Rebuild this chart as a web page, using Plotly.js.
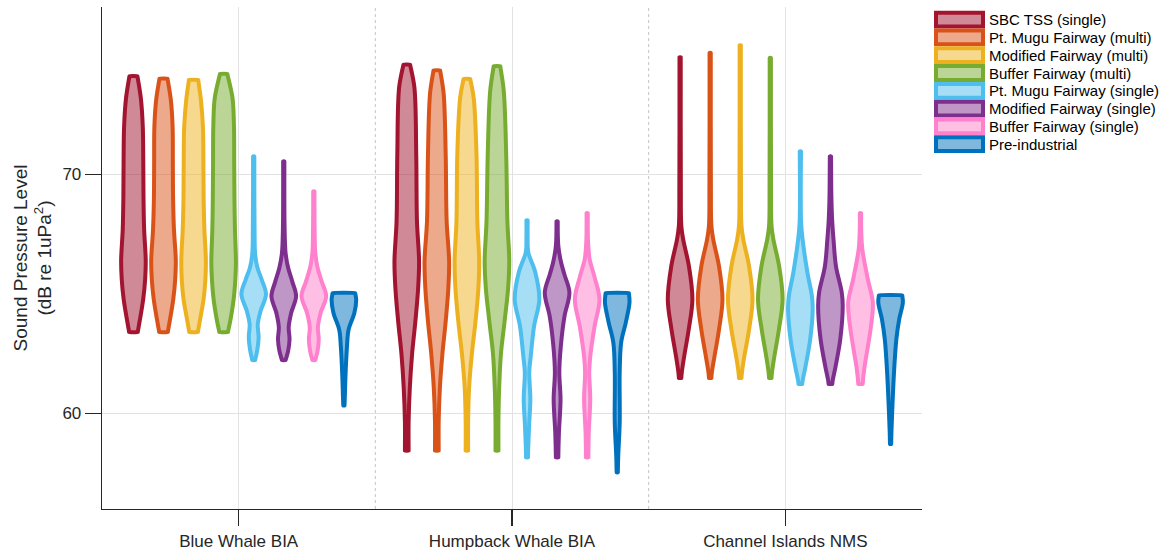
<!DOCTYPE html>
<html><head><meta charset="utf-8">
<script src="https://cdn.plot.ly/plotly-3.0.1.min.js"></script>
<style>html,body{margin:0;padding:0;background:#fff}</style>
</head><body>
<div id="chart" style="width:1164px;height:554px"></div>
<script>
// ---------- data ----------
const groups = ['Blue Whale BIA', 'Humpback Whale BIA', 'Channel Islands NMS'];
const seriesNames = ['SBC TSS (single)', 'Pt. Mugu Fairway (multi)', 'Modified Fairway (multi)', 'Buffer Fairway (multi)',
  'Pt. Mugu Fairway (single)', 'Modified Fairway (single)', 'Buffer Fairway (single)', 'Pre-industrial'];
// Violin profiles: [sound pressure level (dB), relative density width] from minimum to maximum
const blueWhaleBIA = [
  [[63.4,0.35],[63.9,0.52],[64.8,0.8],[65.6,0.95],[66.4,1.0],[67.7,0.87],[69.0,0.82],[70.5,0.8],[72.0,0.76],[73.2,0.6],[74.1,0.33]],
  [[63.4,0.35],[63.9,0.52],[64.8,0.8],[65.6,0.95],[66.4,1.0],[67.7,0.85],[69.0,0.78],[70.5,0.76],[72.0,0.74],[73.1,0.6],[74.0,0.33]],
  [[63.4,0.35],[63.9,0.52],[64.8,0.82],[65.6,0.96],[66.4,1.0],[67.7,0.88],[69.0,0.82],[70.5,0.8],[72.0,0.76],[73.1,0.6],[73.95,0.38]],
  [[63.4,0.35],[63.9,0.55],[64.8,0.82],[65.6,0.95],[66.3,1.0],[67.7,0.92],[69.0,0.88],[70.5,0.86],[72.0,0.84],[73.2,0.72],[74.2,0.3]],
  [[62.23,0.12],[62.68,0.3],[63.18,0.4],[63.72,0.33],[64.27,0.55],[64.98,1.0],[65.6,0.65],[66.1,0.3],[66.65,0.12],[67.7,0.07],[70.75,0.05]],
  [[62.23,0.15],[62.6,0.35],[63.1,0.47],[63.6,0.4],[64.2,0.6],[64.9,1.0],[65.5,0.7],[66.1,0.35],[66.7,0.15],[67.7,0.07],[70.54,0.05]],
  [[62.23,0.12],[62.6,0.3],[63.1,0.4],[63.6,0.33],[64.2,0.55],[64.9,1.0],[65.5,0.65],[66.1,0.3],[66.7,0.12],[67.5,0.07],[69.29,0.05]],
  [[60.33,0.05],[60.6,0.07],[61.7,0.14],[62.8,0.25],[63.5,0.38],[64.2,0.85],[64.75,1.0],[65.03,0.92]]
];
const humpbackWhaleBIA = [
  [[58.44,0.15],[59.67,0.15],[61.09,0.25],[62.47,0.43],[63.85,0.7],[65.2,0.92],[66.36,1.0],[68.03,0.83],[70.84,0.77],[73.64,0.62],[74.59,0.27]],
  [[58.44,0.15],[59.67,0.15],[61.09,0.25],[62.47,0.45],[63.85,0.72],[65.2,0.93],[66.36,1.0],[68.03,0.8],[70.84,0.72],[73.4,0.55],[74.35,0.27]],
  [[58.44,0.1],[59.67,0.1],[61.09,0.18],[62.47,0.4],[63.85,0.7],[65.2,0.93],[66.36,1.0],[68.03,0.85],[70.84,0.78],[73.2,0.55],[73.99,0.27]],
  [[58.44,0.12],[59.67,0.12],[61.09,0.18],[62.47,0.32],[63.85,0.62],[65.2,0.9],[66.36,1.0],[68.03,0.85],[70.84,0.75],[73.5,0.55],[74.52,0.27]],
  [[58.16,0.08],[58.62,0.1],[59.62,0.18],[60.59,0.27],[61.72,0.18],[62.38,0.3],[63.64,0.57],[64.77,1.0],[65.9,0.67],[66.74,0.1],[67.3,0.05],[68.08,0.05]],
  [[58.16,0.1],[59.2,0.15],[60.59,0.28],[61.72,0.18],[62.8,0.3],[64.06,0.6],[65.06,1.0],[65.8,0.6],[66.32,0.32],[67.0,0.1],[68.03,0.05]],
  [[58.16,0.1],[59.2,0.13],[60.59,0.25],[61.72,0.17],[62.38,0.25],[63.64,0.6],[64.77,1.0],[65.7,0.6],[66.45,0.2],[67.2,0.07],[68.38,0.05]],
  [[57.53,0.05],[58.2,0.08],[59.62,0.2],[61.72,0.2],[62.97,0.32],[63.81,0.7],[64.64,1.0],[65.03,0.95]]
];
const channelIslandsNMS = [
  [[61.48,0.1],[61.72,0.14],[62.38,0.33],[63.51,0.7],[64.77,1.0],[66.15,0.72],[67.28,0.25],[67.84,0.1],[69.5,0.06],[74.9,0.05]],
  [[61.48,0.1],[61.72,0.14],[62.38,0.35],[63.51,0.72],[64.77,1.0],[66.15,0.72],[67.28,0.25],[67.84,0.1],[69.5,0.06],[75.08,0.05]],
  [[61.48,0.1],[61.72,0.14],[62.38,0.33],[63.51,0.72],[64.77,1.0],[66.15,0.72],[67.28,0.25],[67.84,0.1],[69.5,0.06],[75.4,0.05]],
  [[61.48,0.1],[61.72,0.14],[62.38,0.33],[63.51,0.7],[64.77,1.0],[66.15,0.72],[67.28,0.25],[67.84,0.1],[69.5,0.06],[74.87,0.05]],
  [[61.23,0.15],[61.42,0.2],[61.97,0.42],[63.1,0.8],[64.35,1.0],[64.9,0.94],[65.9,0.57],[67.28,0.18],[67.99,0.06],[70.96,0.05]],
  [[61.23,0.15],[61.42,0.2],[61.97,0.42],[63.1,0.8],[64.5,1.0],[65.06,0.92],[66.15,0.45],[67.28,0.25],[67.99,0.15],[69.0,0.08],[70.75,0.05]],
  [[61.23,0.18],[61.84,0.3],[62.8,0.6],[63.64,0.85],[64.64,1.0],[65.6,0.6],[66.86,0.15],[67.5,0.07],[68.38,0.05]],
  [[58.72,0.05],[59.2,0.07],[60.29,0.15],[61.72,0.28],[63.1,0.47],[63.93,0.7],[64.64,1.0],[64.94,0.95]]
];
const yTicks = [60, 70];

// ---------- style ----------
const lineColors = ['#A2142F', '#D95319', '#EDB120', '#77AC30', '#4DBEEE', '#7E2F8E', '#FF80CC', '#0072BD'];
const FONT = '"Liberation Sans", Arial, Helvetica, sans-serif';
const TXT = '#262626';
const SLOT = 0.11;     // spacing between violins in a group (x units)
const HALF = 0.045;    // half-width of the widest part (x units)
const EPS = 0.004;     // tiny offset that keeps the flat ends of each violin sharp under spline smoothing

function rgba(hex, a) {
  const n = parseInt(hex.slice(1), 16);
  return 'rgba(' + ((n >> 16) & 255) + ',' + ((n >> 8) & 255) + ',' + (n & 255) + ',' + a + ')';
}

const profilesByGroup = [blueWhaleBIA, humpbackWhaleBIA, channelIslandsNMS];
const traces = [];
profilesByGroup.forEach((grp, gi) => {
  grp.forEach((prof, si) => {
    const c = gi + 1 + (si - 3.5) * SLOT;
    const n = prof.length;
    const xs = [], ys = [];
    // right side, bottom -> top (corner points doubled to keep flat ends sharp)
    prof.forEach((p, k) => {
      if (k === n - 1) { xs.push(c + p[1] * HALF); ys.push(p[0] - EPS); }
      xs.push(c + p[1] * HALF); ys.push(p[0]);
      if (k === 0) { xs.push(c + p[1] * HALF); ys.push(p[0] + EPS); }
    });
    // left side, top -> bottom
    for (let k = n - 1; k >= 0; k--) {
      if (k === 0) { xs.push(c - prof[k][1] * HALF); ys.push(prof[k][0] + EPS); }
      xs.push(c - prof[k][1] * HALF); ys.push(prof[k][0]);
      if (k === n - 1) { xs.push(c - prof[k][1] * HALF); ys.push(prof[k][0] - EPS); }
    }
    xs.push(xs[0]); ys.push(ys[0]);
    traces.push({
      type: 'scatter', mode: 'lines', x: xs, y: ys, fill: 'toself',
      fillcolor: rgba(lineColors[si], 0.5),
      line: {color: lineColors[si], width: 4, shape: 'spline', smoothing: 1, simplify: false},
      name: seriesNames[si], showlegend: false, hoverinfo: 'skip'
    });
  });
});

// plot area in pixels
const W = 1164, H = 554, L = 102, R = 922, T = 7, B = 509;
const px2x = p => (p - L) / (R - L);
const px2y = p => (B - p) / (B - T);

const shapes = [1.5, 2.5].map(xv => ({
  type: 'line', xref: 'x', yref: 'paper', x0: xv, x1: xv, y0: 0, y1: 1,
  line: {color: '#c4c4c4', width: 1, dash: 'dot'}, layer: 'below'
}));
const annotations = [];
const rowTop = 10.7, rowH = 17.8;
seriesNames.forEach((nm, i) => {
  const top = rowTop + i * rowH, bot = top + rowH;
  shapes.push({
    type: 'rect', xref: 'paper', yref: 'paper',
    x0: px2x(936), x1: px2x(983), y0: px2y(bot - 2), y1: px2y(top + 2),
    line: {color: lineColors[i], width: 4}, fillcolor: rgba(lineColors[i], 0.5), layer: 'above'
  });
  annotations.push({
    xref: 'paper', yref: 'paper', x: px2x(987), y: px2y((top + bot) / 2),
    xanchor: 'left', yanchor: 'middle', showarrow: false, text: nm,
    font: {family: FONT, size: 15, color: '#000'}
  });
});

const layout = {
  width: W, height: H,
  margin: {l: L, r: W - R, t: T, b: H - B, pad: 0},
  paper_bgcolor: '#fff', plot_bgcolor: '#fff',
  showlegend: false,
  font: {family: FONT, color: TXT},
  xaxis: {
    range: [0.5, 3.5], tickvals: [1, 2, 3], ticktext: groups,
    showgrid: true, gridcolor: '#e2e2e2', gridwidth: 1, zeroline: false,
    showline: true, linecolor: TXT, linewidth: 1.3,
    ticks: 'outside', ticklen: 16, tickwidth: 1.3, tickcolor: TXT,
    tickfont: {family: FONT, size: 17, color: TXT}
  },
  yaxis: {
    range: [56, 77], tickvals: yTicks,
    showgrid: true, gridcolor: '#e2e2e2', gridwidth: 1, zeroline: false,
    showline: true, linecolor: TXT, linewidth: 1.3,
    ticks: 'outside', ticklen: 16, tickwidth: 1.3, tickcolor: TXT,
    tickfont: {family: FONT, size: 17, color: TXT},
    title: {text: 'Sound Pressure Level<br>(dB re 1uPa<sup>2</sup>)', font: {family: FONT, size: 19, color: TXT}, standoff: 5}
  },
  shapes: shapes,
  annotations: annotations
};

Plotly.newPlot('chart', traces, layout, {staticPlot: true, displayModeBar: false});
</script>
</body></html>
